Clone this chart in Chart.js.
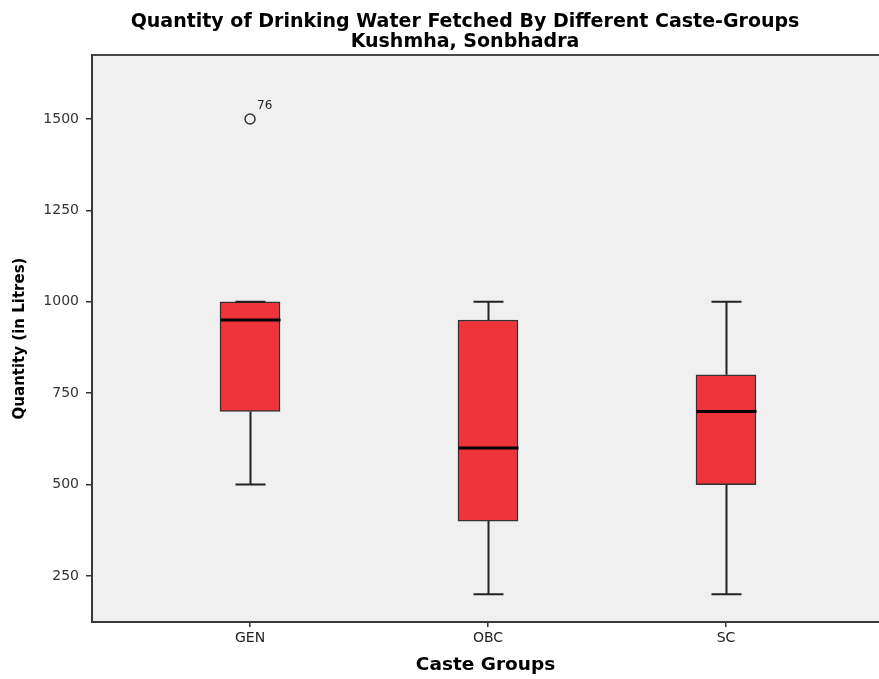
<!DOCTYPE html>
<html>
<head>
<meta charset="utf-8">
<script src="https://cdn.jsdelivr.net/npm/chart.js@4"></script>
<style>
  html, body { margin: 0; padding: 0; background: #fff; }
  #wrap { width: 879px; height: 679px; }
</style>
</head>
<body>
<div id="wrap"><canvas id="GraficoCaja"></canvas></div>
<script>
// datos
var grupos = ['GEN', 'OBC', 'SC'];
var minimos = [500, 200, 200];
var cuartil1 = [700, 400, 500];
var medianas = [950, 600, 700];
var cuartil3 = [1000, 950, 800];
var maximos = [1000, 1000, 1000];
var atipicoGrupo = [0];
var atipicoValor = [1500];
var atipicoEtiqueta = ['76'];
var ticksY = [250, 500, 750, 1000, 1250, 1500];

var titulo = ['Quantity of Drinking Water Fetched By Different Caste-Groups', 'Kushmha, Sonbhadra'];
var fuente = '"DejaVu Sans", "Liberation Sans", Arial, sans-serif';

var cajas = grupos.map(function(g, i) {
  return { x: i + 1, y: [cuartil1[i], cuartil3[i]] };
});
var puntos = atipicoGrupo.map(function(g, i) {
  return { x: g + 1, y: atipicoValor[i] };
});

// fondo gris y borde superior del area
var fondoPlugin = {
  id: 'fondo',
  beforeDraw: function(chart) {
    var a = chart.chartArea, c = chart.ctx;
    c.save();
    c.fillStyle = '#f0f0f0';
    c.fillRect(a.left, a.top, chart.width - a.left, a.bottom - a.top);
    c.strokeStyle = '#4a4a4a';
    c.lineWidth = 2;
    c.beginPath();
    c.moveTo(a.left, a.top);
    c.lineTo(chart.width, a.top);
    c.stroke();
    c.restore();
  }
};

// bigotes, medianas y etiqueta del atipico
var bigotesPlugin = {
  id: 'bigotes',
  afterDatasetsDraw: function(chart) {
    var c = chart.ctx;
    var xs = chart.scales.x, ys = chart.scales.y;
    c.save();
    grupos.forEach(function(g, i) {
      var x = Math.round(xs.getPixelForValue(i + 1)) + 0.5;
      c.strokeStyle = '#222';
      c.lineWidth = 2;
      c.beginPath();
      c.moveTo(x, ys.getPixelForValue(cuartil3[i]));
      c.lineTo(x, ys.getPixelForValue(maximos[i]));
      c.moveTo(x - 15, ys.getPixelForValue(maximos[i]));
      c.lineTo(x + 15, ys.getPixelForValue(maximos[i]));
      c.moveTo(x, ys.getPixelForValue(cuartil1[i]));
      c.lineTo(x, ys.getPixelForValue(minimos[i]));
      c.moveTo(x - 15, ys.getPixelForValue(minimos[i]));
      c.lineTo(x + 15, ys.getPixelForValue(minimos[i]));
      c.stroke();
      c.strokeStyle = '#000';
      c.lineWidth = 3;
      c.beginPath();
      c.moveTo(x - 30, ys.getPixelForValue(medianas[i]));
      c.lineTo(x + 30, ys.getPixelForValue(medianas[i]));
      c.stroke();
    });
    c.fillStyle = '#222';
    c.font = '12px ' + fuente;
    c.textAlign = 'left';
    c.textBaseline = 'middle';
    atipicoGrupo.forEach(function(g, i) {
      c.fillText(atipicoEtiqueta[i], xs.getPixelForValue(g + 1) + 7, ys.getPixelForValue(atipicoValor[i]) - 13);
    });
    c.restore();
  }
};

// titulo en dos lineas
var tituloPlugin = {
  id: 'tituloPropio',
  afterDraw: function(chart) {
    var c = chart.ctx;
    c.save();
    c.fillStyle = '#000';
    c.font = 'bold 19px ' + fuente;
    c.textAlign = 'center';
    c.textBaseline = 'middle';
    c.fillText(titulo[0], 465, 22);
    c.fillText(titulo[1], 465, 42);
    c.restore();
  }
};

var ctx = document.getElementById('GraficoCaja').getContext('2d');
var GraficoCaja = new Chart(ctx, {
  type: 'bar',
  data: {
    datasets: [{
      label: 'Caja',
      data: cajas,
      backgroundColor: '#ef333a',
      borderColor: '#333',
      borderWidth: 1.5,
      borderSkipped: false,
      barThickness: 60
    }, {
      type: 'scatter',
      label: 'Atipico',
      data: puntos,
      pointRadius: 5,
      pointBorderWidth: 1.5,
      pointBorderColor: '#333',
      pointBackgroundColor: 'rgba(0,0,0,0)'
    }]
  },
  options: {
    responsive: true,
    maintainAspectRatio: false,
    animation: false,
    layout: { autoPadding: false, padding: { top: 55, left: 0, right: 0, bottom: 0 } },
    plugins: {
      legend: { display: false },
      tooltip: { enabled: false },
      title: { display: false }
    },
    scales: {
      x: {
        type: 'linear',
        offset: false,
        min: 0.336,
        max: 3.643,
        afterBuildTicks: function(scale) {
          scale.ticks = grupos.map(function(g, i) { return { value: i + 1 }; });
        },
        afterFit: function(scale) { scale.height = 57; },
        ticks: {
          color: '#222',
          font: { family: fuente, size: 14 },
          padding: 3,
          maxRotation: 0,
          autoSkip: false,
          callback: function(v) { return grupos[v - 1]; }
        },
        grid: { offset: false, drawOnChartArea: false, tickLength: 5, color: '#333', lineWidth: 1.5 },
        border: { color: '#3a3a3a', width: 2 },
        title: {
          display: true,
          text: 'Caste Groups',
          color: '#000',
          font: { family: fuente, size: 18.5, weight: 'bold' },
          padding: { top: 0, bottom: 3 }
        }
      },
      y: {
        type: 'linear',
        min: 124,
        max: 1675,
        afterBuildTicks: function(scale) {
          scale.ticks = ticksY.map(function(v) { return { value: v }; });
        },
        afterFit: function(scale) { scale.width = 92; },
        ticks: {
          color: '#333',
          font: { family: fuente, size: 14 },
          padding: 7,
          callback: function(v) { return String(v); }
        },
        grid: { drawOnChartArea: false, tickLength: 6, color: '#333', lineWidth: 1.5 },
        border: { color: '#3a3a3a', width: 2 },
        title: {
          display: true,
          text: 'Quantity (in Litres)',
          color: '#000',
          font: { family: fuente, size: 15, weight: 'bold' },
          padding: { top: 11, bottom: 0 }
        }
      }
    }
  },
  plugins: [fondoPlugin, bigotesPlugin, tituloPlugin]
});
</script>
</body>
</html>
